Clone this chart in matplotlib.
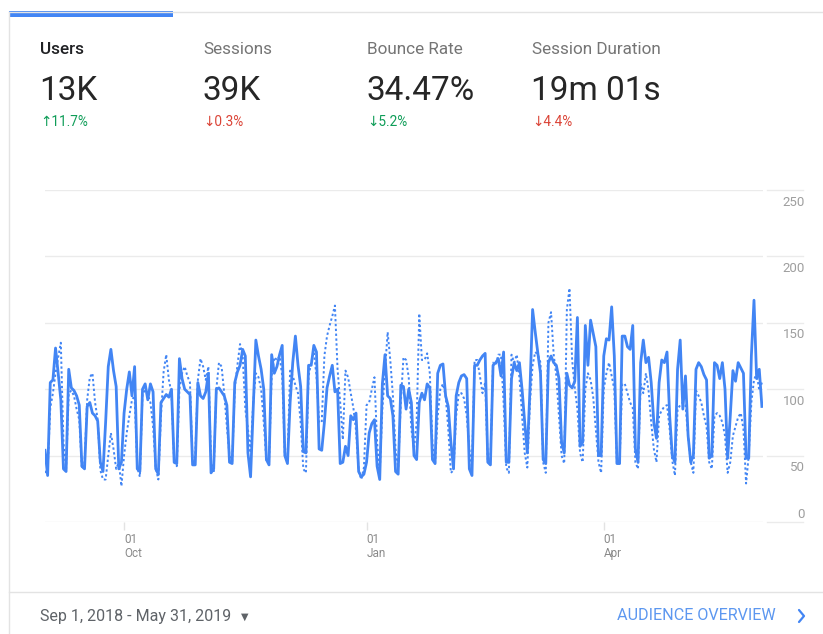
"""
Users overview card: daily users, current period vs previous period.

Saves out.png (823x634).
"""
import matplotlib.pyplot as plt
import matplotlib.transforms as mtransforms
import pandas as pd
from matplotlib.lines import Line2D
from matplotlib.patches import Rectangle


# Configuration
W_PX, H_PX = 823, 634
DPI = 100
BLUE = "#4285f4"
GRID = "#ebebeb"
FONT = ["Roboto", "DejaVu Sans"]

# Header metrics
metric_names = ["Users", "Sessions", "Bounce Rate", "Session Duration"]
metric_values = ["13K", "39K", "34.47%", "19m 01s"]
metric_deltas = ["\u219111.7%", "\u21930.3%", "\u21935.2%", "\u21934.4%"]
delta_colors = ["#0f9d58", "#db4437", "#0f9d58", "#db4437"]

date_start, date_end = "2018-09-01", "2019-05-31"
date_range_label = "Sep 1, 2018 - May 31, 2019"
link_label = "AUDIENCE OVERVIEW"

y_ticks = [0, 50, 100, 150, 200, 250]
x_tick_dates = ["2018-10-01", "2019-01-01", "2019-04-01"]
x_tick_labels = ["01\nOct", "01\nJan", "01\nApr"]

# Daily users, one row per week (Sat..Fri)
users_current = [
    54, 35, 105, 107, 131, 112, 92,
    40, 38, 115, 101, 99, 95, 88,
    42, 40, 87, 90, 82, 80, 76,
    45, 38, 75, 117, 130, 114, 102,
    40, 45, 82, 100, 113, 95, 117,
    40, 38, 100, 104, 92, 104, 98,
    40, 36, 90, 93, 96, 94, 100,
    45, 44, 123, 108, 100, 98, 96,
    43, 43, 105, 95, 93, 98, 112,
    37, 40, 100, 101, 98, 95, 88,
    45, 44, 105, 113, 118, 130, 125,
    52, 34, 85, 137, 125, 115, 100,
    47, 43, 126, 112, 117, 126, 133,
    50, 44, 90, 120, 140, 118, 102,
    53, 52, 118, 118, 133, 128, 55,
    54, 75, 101, 110, 118, 98, 100,
    44, 45, 57, 50, 80, 77, 82,
    38, 34, 36, 45, 67, 74, 77,
    42, 32, 104, 126, 95, 93, 80,
    38, 36, 103, 102, 85, 100, 90,
    50, 47, 90, 97, 92, 104, 101,
    47, 44, 112, 118, 119, 95, 87,
    60, 40, 95, 105, 110, 111, 108,
    40, 35, 118, 118, 122, 125, 127,
    45, 43, 118, 120, 123, 110, 128,
    45, 45, 108, 120, 114, 120, 100,
    75, 52, 100, 160, 143, 127, 112,
    47, 44, 120, 125, 120, 118, 108,
    60, 52, 112, 103, 101, 106, 154,
    57, 60, 148, 118, 152, 142, 132,
    50, 50, 125, 138, 137, 162, 125,
    44, 44, 140, 140, 132, 130, 148,
    55, 45, 120, 137, 120, 124, 105,
    75, 63, 105, 122, 120, 128, 80,
    50, 45, 115, 137, 85, 110, 65,
    45, 50, 115, 120, 117, 111, 107,
    48, 50, 120, 118, 108, 120, 100,
    48, 80, 114, 106, 120, 116, 112,
    48, 48, 125, 167, 108, 115, 87,
]

users_previous = [
    37, 40, 86, 97, 112, 124, 135,
    60, 40, 97, 99, 95, 85, 77,
    40, 45, 92, 109, 112, 90, 77,
    39, 32, 32, 50, 67, 55, 40,
    45, 27, 50, 67, 80, 92, 95,
    41, 34, 97, 99, 96, 90, 72,
    41, 32, 80, 113, 126, 107, 97,
    45, 42, 100, 112, 117, 110, 105,
    44, 50, 107, 123, 117, 107, 117,
    45, 37, 100, 120, 117, 97, 72,
    50, 44, 100, 118, 134, 125, 85,
    70, 52, 90, 112, 109, 100, 75,
    46, 45, 110, 124, 122, 125, 110,
    50, 47, 114, 110, 103, 97, 75,
    40, 37, 110, 120, 128, 110, 75,
    75, 125, 140, 148, 155, 163, 115,
    90, 62, 114, 109, 97, 86, 69,
    39, 32, 41, 88, 90, 100, 109,
    60, 37, 85, 114, 143, 122, 95,
    55, 41, 90, 124, 122, 109, 70,
    55, 75, 157, 122, 122, 127, 112,
    59, 44, 80, 100, 104, 95, 70,
    37, 39, 80, 97, 97, 93, 80,
    55, 41, 122, 122, 110, 97, 105,
    45, 45, 120, 118, 126, 126, 90,
    41, 37, 126, 120, 126, 109, 80,
    52, 41, 90, 118, 128, 126, 120,
    45, 37, 150, 158, 126, 110, 80,
    50, 44, 160, 176, 122, 101, 85,
    52, 45, 100, 112, 107, 94, 70,
    45, 37, 100, 112, 120, 110, 100,
    44, 44, 104, 104, 97, 90, 86,
    45, 40, 104, 97, 112, 99, 75,
    55, 45, 80, 84, 87, 88, 70,
    46, 35, 85, 88, 90, 88, 65,
    45, 37, 99, 95, 90, 80, 72,
    45, 40, 80, 82, 80, 75, 65,
    37, 45, 65, 72, 79, 82, 70,
    29, 50, 90, 107, 112, 99, 105,
]


def fx(px):
    """Pixel x -> figure fraction."""
    return px / W_PX


def fy(py):
    """Pixel y (from top) -> figure fraction."""
    return 1 - py / H_PX


def draw_card(fig):
    """Card frame, blue tab marker, header metrics and footer."""
    # frame lines
    fig.add_artist(Line2D([fx(9), fx(9)], [fy(12), fy(634)], color="#e3e3e3", lw=1))
    fig.add_artist(Line2D([fx(9), fx(823)], [fy(12), fy(12)], color="#e3e3e3", lw=1))
    fig.add_artist(Line2D([fx(9), fx(823)], [fy(592), fy(592)], color="#e3e3e3", lw=1))
    fig.add_artist(Rectangle((fx(9), fy(17)), fx(173) - fx(9), fy(11) - fy(17),
                             color=BLUE, lw=0))

    x_cols = [40, 203, 367, 532]
    for i, x in enumerate(x_cols):
        selected = i == 0
        fig.text(fx(x), fy(49), metric_names[i], family=FONT, fontsize=12.3,
                 color="#202124" if selected else "#757575",
                 weight="medium" if selected else "normal", va="center")
        fig.text(fx(x - 1), fy(91), metric_values[i], family=FONT, fontsize=24,
                 color="#262626", weight="normal", va="center")
        fig.text(fx(x), fy(122), metric_deltas[i], family=FONT, fontsize=9.8,
                 color=delta_colors[i], va="center")

    fig.text(fx(40), fy(616), date_range_label, family=FONT, fontsize=11.5,
             color="#5f6368", va="center")
    fig.text(fx(241), fy(617), "\u25bc", family=["DejaVu Sans"], fontsize=7,
             color="#5f6368", va="center")
    fig.text(fx(776), fy(616), link_label, family=FONT, fontsize=11.6,
             color="#5c97f0", va="center", ha="right")
    fig.add_artist(Line2D([fx(799), fx(804), fx(799)], [fy(610), fy(616), fy(622)],
                          color=BLUE, lw=1.6, solid_capstyle="round"))


def draw_chart(fig):
    days = pd.date_range(date_start, date_end, freq="D")
    ax = fig.add_axes([fx(45), fy(522), fx(763) - fx(45), fy(190) - fy(522)])

    ax.plot(days, users_previous, color=BLUE, lw=1.4, linestyle=(0, (1.2, 1.3)),
            zorder=2)
    ax.plot(days, users_current, color=BLUE, lw=2.0, zorder=3,
            solid_joinstyle="round")

    ax.set_xlim(days[0], days[-1] + pd.Timedelta(hours=10))
    ax.set_ylim(0, 250)
    for side in ax.spines:
        ax.spines[side].set_visible(False)

    # horizontal gridlines + short right-side segments and labels
    trans = mtransforms.blended_transform_factory(ax.transAxes, ax.transData)
    for v in y_ticks:
        ax.axhline(v, color=GRID, lw=1, zorder=1)
        ax.plot([1.0056, 1.0557], [v, v], transform=trans, color=GRID, lw=1,
                clip_on=False)
        if v == 0:
            ax.annotate(str(v), xy=(1.0585, v), xycoords=trans, xytext=(0, 1),
                        textcoords="offset points", ha="right", va="bottom",
                        family=FONT, fontsize=9.5, color="#9e9e9e")
        else:
            ax.annotate(str(v), xy=(1.0585, v), xycoords=trans, xytext=(0, -4),
                        textcoords="offset points", ha="right", va="top",
                        family=FONT, fontsize=9.5, color="#9e9e9e")

    ax.set_yticks([])
    ticks = pd.to_datetime(x_tick_dates)
    ax.set_xticks(ticks)
    ax.set_xticklabels(x_tick_labels, family=FONT, fontsize=8.5, color="#8a8a8a",
                       ha="left", linespacing=1.05)
    ax.tick_params(axis="x", length=6, width=1, color="#e3e3e3", pad=2)


def main():
    fig = plt.figure(figsize=(W_PX / DPI, H_PX / DPI), dpi=DPI)
    fig.patch.set_facecolor("white")
    draw_chart(fig)
    draw_card(fig)
    fig.savefig("out.png", dpi=DPI)
    plt.close(fig)


if __name__ == "__main__":
    main()
